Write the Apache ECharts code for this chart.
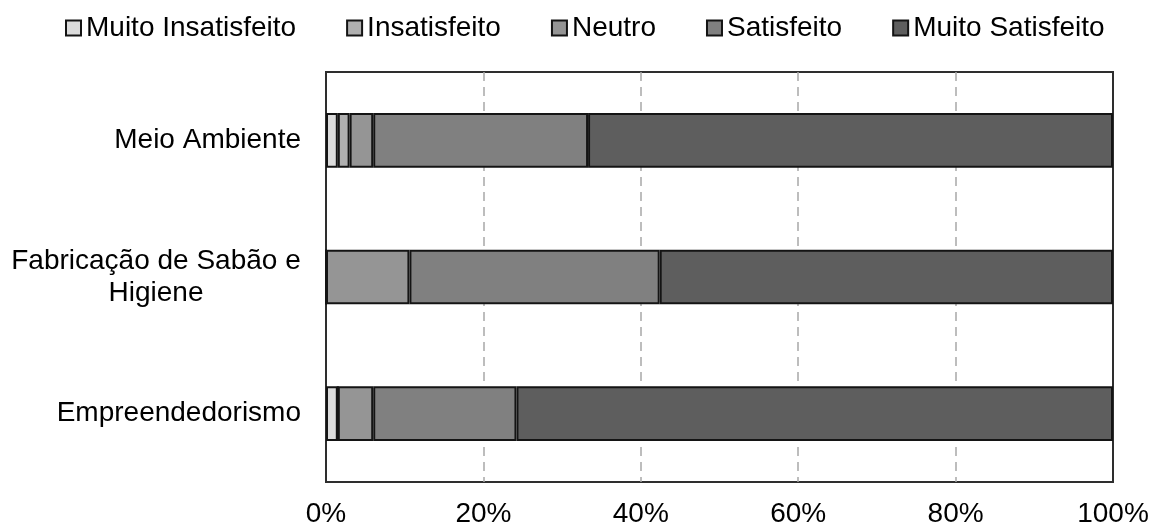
<!DOCTYPE html>
<html>
<head>
<meta charset="utf-8">
<script src="https://cdn.jsdelivr.net/npm/echarts@6/dist/echarts.min.js"></script>
<style>
  html, body { margin: 0; padding: 0; background: #ffffff; }
  #chart { width: 1158px; height: 528px; }
</style>
</head>
<body>
<div id="chart"></div>
<script>
// Survey topics (top to bottom) and answer shares in percent
const categories = ['Meio Ambiente', 'Fabricação de Sabão e\nHigiene', 'Empreendedorismo'];
const levelNames = ['Muito Insatisfeito', 'Insatisfeito', 'Neutro', 'Satisfeito', 'Muito Satisfeito'];
const muitoInsatisfeito = [1.5, 0, 1.5];
const insatisfeito = [1.5, 0, 0];
const neutro = [3.0, 10.6, 4.5];
const satisfeito = [27.3, 31.8, 18.2];
const muitoSatisfeito = [66.7, 57.6, 75.8];
const xTicks = [0, 20, 40, 60, 80, 100];

const FONT = '"Liberation Sans", Arial, Helvetica, sans-serif';
const FONT_SIZE = 28;
const fills = ['#dcdcdc', '#b0b0b0', '#959595', '#808080', '#5e5e5e'];
const seriesValues = [muitoInsatisfeito, insatisfeito, neutro, satisfeito, muitoSatisfeito];

// widest line of any wrapped category label, so its lines can be centred in one block
const measureCtx = document.createElement('canvas').getContext('2d');
measureCtx.font = FONT_SIZE + 'px ' + FONT;
let blockWidth = 0;
categories.forEach(c => {
  const lines = c.split('\n');
  if (lines.length > 1) {
    lines.forEach(l => { blockWidth = Math.max(blockWidth, Math.ceil(measureCtx.measureText(l).width)); });
  }
});

const chart = echarts.init(document.getElementById('chart'), null, { renderer: 'canvas' });

chart.setOption({
  animation: false,
  backgroundColor: '#ffffff',
  textStyle: { fontFamily: FONT, color: '#000000' },
  legend: {
    top: 14,
    left: 65,
    padding: 0,
    itemWidth: 15,
    itemHeight: 15,
    itemGap: 50,
    icon: 'rect',
    textStyle: { fontSize: FONT_SIZE, color: '#000000', fontFamily: FONT },
    data: levelNames
  },
  grid: {
    left: 326,
    right: 45,
    top: 72,
    bottom: 46,
    show: true,
    borderColor: '#2e2e2e',
    borderWidth: 2,
    backgroundColor: 'transparent'
  },
  xAxis: {
    type: 'value',
    min: xTicks[0],
    max: xTicks[xTicks.length - 1],
    interval: xTicks[1] - xTicks[0],
    axisLine: { show: false },
    axisTick: { show: false },
    axisLabel: {
      formatter: '{value}%',
      fontSize: FONT_SIZE,
      color: '#000000',
      fontFamily: FONT,
      margin: 18
    },
    splitLine: {
      show: true,
      showMinLine: false,
      showMaxLine: false,
      lineStyle: { color: '#a8a8a8', width: 1.5, type: [9, 6] }
    }
  },
  yAxis: {
    type: 'category',
    inverse: true,
    data: categories,
    axisLine: { show: true, lineStyle: { color: '#2e2e2e', width: 2 } },
    axisTick: { show: false },
    axisLabel: {
      fontSize: FONT_SIZE,
      color: '#000000',
      fontFamily: FONT,
      margin: 25,
      lineHeight: 32,
      formatter: function (value) {
        const lines = value.split('\n');
        if (lines.length === 1) return value;
        return lines.map(l => '{c|' + l + '}').join('\n');
      },
      rich: {
        c: {
          width: blockWidth,
          align: 'center',
          fontSize: FONT_SIZE,
          lineHeight: 32,
          fontFamily: FONT,
          color: '#000000'
        }
      }
    }
  },
  series: levelNames.map((name, i) => ({
    name: name,
    type: 'bar',
    stack: 'total',
    barWidth: '40%',
    data: seriesValues[i],
    itemStyle: {
      color: fills[i],
      borderColor: '#141414',
      borderWidth: 2
    }
  }))
});
</script>
</body>
</html>
